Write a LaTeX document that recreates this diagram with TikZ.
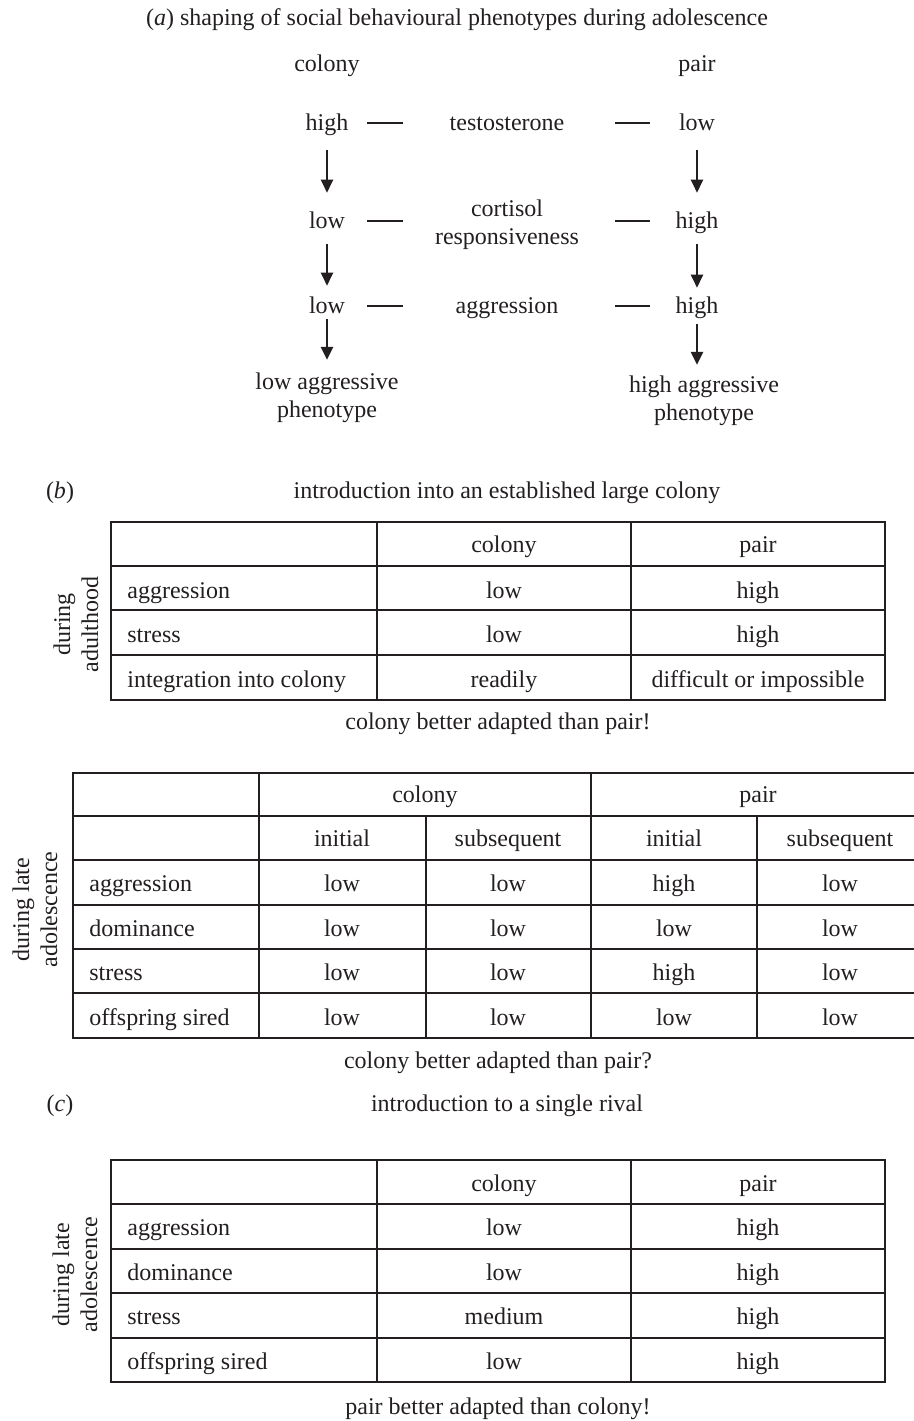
\documentclass[tikz,border=0pt]{standalone}
\usepackage{fontspec}
\setmainfont{Liberation Serif}
\usetikzlibrary{arrows.meta}
\definecolor{FigInk}{HTML}{231F20}
\tikzset{
  every node/.style={font=\fontsize{12}{14}\selectfont, text=FigInk, yshift=-1.25pt},
  val/.style={inner sep=0pt, text height=8.4pt, text depth=3pt},
  stack/.style={inner sep=0pt, align=center},
  side/.style={inner sep=0pt, align=center, rotate=90},
  flow/.style={-{Triangle[length=6.5pt,width=6pt]}, draw=FigInk, line width=1.2pt},
  tie/.style={draw=FigInk, line width=0.7pt},
  rule/.style={draw=FigInk, line width=1pt},
}

\begin{document}
\begin{tikzpicture}[x=0.5pt,y=-0.5pt]
  \useasboundingbox (0,0) rectangle (914,1421);
  \clip (0,0) rectangle (914,1421);
  % (a) phenotype chains for the two rearing groups
  \node[val] (ttlA) at (457,18) {(\textit{a}) shaping of social behavioural phenotypes during adolescence};
  \node[val] (hdC) at (327,64) {colony};
  \node[val] (hdP) at (697,64) {pair};
  \node[val] (c1) at (327,123) {high};
  \node[val] (m1) at (507,123) {testosterone};
  \node[val] (p1) at (697,123) {low};
  \node[val] (c2) at (327,221) {low};
  \node[stack] (m2) at (507,222) {cortisol\\responsiveness};
  \node[val] (p2) at (697,221) {high};
  \node[val] (c3) at (327,306) {low};
  \node[val] (m3) at (507,306) {aggression};
  \node[val] (p3) at (697,306) {high};
  \node[stack] (cEnd) at (327,395) {low aggressive\\phenotype};
  \node[stack] (pEnd) at (704,398) {high aggressive\\phenotype};
  % short ties either side of the middle column
  \foreach \y in {123,221,306}{
    \draw[tie] (367,\y) -- (403,\y);
    \draw[tie] (615,\y) -- (650,\y);
  }
  % downward arrows
  \draw[flow, shorten <=6.5pt, shorten >=9.5pt] (c1.south) -- (c2.north);
  \draw[flow, shorten <=4.5pt, shorten >=5.5pt] (c2.south) -- (c3.north);
  \draw[flow, shorten <=-0.5pt, shorten >=6.2pt] (c3.south) -- (cEnd.north);
  \draw[flow, shorten <=6.5pt, shorten >=9.5pt] (p1.south) -- (p2.north);
  \draw[flow, shorten <=4.5pt, shorten >=4.5pt] (p2.south) -- (p3.north);
  \draw[flow, shorten <=2pt, shorten >=5.2pt] (p3.south) -- (p3.south |- pEnd.north);

  % (b) adults put into a large colony
  \node[val] (lblB) at (60,491) {(\textit{b})};
  \node[val] (ttlB) at (507,491) {introduction into an established large colony};
  \draw[rule] (111,522) rectangle (885,700);
  \foreach \y in {566,610,655} \draw[rule] (111,\y) -- (885,\y);
  \foreach \x in {377,631} \draw[rule] (\x,522) -- (\x,700);
  \node[val] (tbC) at (504,545) {colony};
  \node[val] (tbP) at (758,545) {pair};
  \foreach \lab/\vc/\vp [count=\i, evaluate=\i as \yy using 546+44.5*\i] in
      {aggression/low/high, stress/low/high, integration into colony/readily/difficult or\ impossible}{
    \node[val, anchor=west] (tb\i-l) at (127,\yy) {\lab};
    \node[val] (tb\i-c) at (504,\yy) {\vc};
    \node[val] (tb\i-p) at (758,\yy) {\vp};
  }
  \node[side] (sdB) at (76,622) {during\\adulthood};
  \node[val] (capB) at (498,722) {colony better adapted than pair!};

  % late adolescents, before and after
  \draw[rule] (73,773) rectangle (924,1038);
  \foreach \y in {816,860,905,949,993} \draw[rule] (73,\y) -- (924,\y);
  \foreach \x in {259,591} \draw[rule] (\x,773) -- (\x,1038);
  \foreach \x in {426,757} \draw[rule] (\x,816) -- (\x,1038);
  \node[val] (tdC) at (425,795) {colony};
  \node[val] (tdP) at (758,795) {pair};
  \foreach \x/\hd [count=\j] in {342/initial, 508/subsequent, 674/initial, 840/subsequent}
    \node[val] (td0-\j) at (\x,839) {\hd};
  \foreach \lab/\va/\vb/\vc/\vd [count=\i, evaluate=\i as \yy using 839.5+44.4*\i] in
      {aggression/low/low/high/low, dominance/low/low/low/low,
       stress/low/low/high/low, offspring sired/low/low/low/low}{
    \node[val, anchor=west] (td\i-l) at (89,\yy) {\lab};
    \node[val] (td\i-1) at (342,\yy) {\va};
    \node[val] (td\i-2) at (508,\yy) {\vb};
    \node[val] (td\i-3) at (674,\yy) {\vc};
    \node[val] (td\i-4) at (840,\yy) {\vd};
  }
  \node[side] (sdD) at (35,907) {during late\\adolescence};
  \node[val] (capD) at (498,1061) {colony better adapted than pair?};

  % (c) facing one rival
  \node[val] (lblC) at (60,1104) {(\textit{c})};
  \node[val] (ttlC) at (507,1104) {introduction to a single rival};
  \draw[rule] (111,1160) rectangle (885,1382);
  \foreach \y in {1204,1249,1293,1338} \draw[rule] (111,\y) -- (885,\y);
  \foreach \x in {377,631} \draw[rule] (\x,1160) -- (\x,1382);
  \node[val] (tcC) at (504,1183.5) {colony};
  \node[val] (tcP) at (758,1183.5) {pair};
  \foreach \lab/\vc/\vp [count=\i, evaluate=\i as \yy using 1183.5+44.5*\i] in
      {aggression/low/high, dominance/low/high, stress/medium/high, offspring sired/low/high}{
    \node[val, anchor=west] (tc\i-l) at (127,\yy) {\lab};
    \node[val] (tc\i-c) at (504,\yy) {\vc};
    \node[val] (tc\i-p) at (758,\yy) {\vp};
  }
  \node[side] (sdC) at (75,1272) {during late\\adolescence};
  \node[val] (capC) at (498,1407) {pair better adapted than colony!};
\end{tikzpicture}
\end{document}
